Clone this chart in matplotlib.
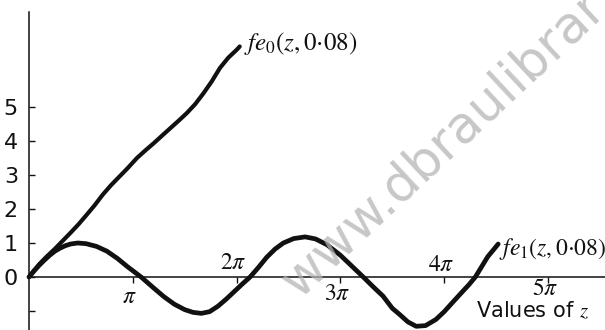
import numpy as np
import matplotlib
matplotlib.use("Agg")
from matplotlib import pyplot as plt

plt.rcParams['mathtext.fontset'] = 'stix'

# Mathieu functions fe0(z, 0.08) and fe1(z, 0.08); z given in multiples of pi
fe0_z = [0.00, 0.05, 0.10, 0.17, 0.25, 0.32, 0.40, 0.48, 0.55, 0.63, 0.71, 0.79, 0.87, 0.95,
         1.04, 1.12, 1.20, 1.29, 1.37, 1.45, 1.52, 1.60, 1.68, 1.76, 1.84, 1.92, 2.00, 2.03]
fe0_v = [0.00, 0.20, 0.38, 0.60, 0.83, 1.05, 1.30, 1.56, 1.81, 2.10, 2.42, 2.70, 2.95, 3.20,
         3.50, 3.72, 3.93, 4.18, 4.40, 4.62, 4.82, 5.08, 5.40, 5.75, 6.15, 6.45, 6.68, 6.78]

fe1_z = [0.00, 0.05, 0.10, 0.15, 0.20, 0.25, 0.30, 0.35, 0.40, 0.47, 0.55, 0.65, 0.75, 0.85,
         0.95, 1.08, 1.20, 1.30, 1.40, 1.50, 1.58, 1.66, 1.74, 1.82, 1.90, 1.97, 2.05, 2.13,
         2.21, 2.29, 2.37, 2.45, 2.55, 2.66, 2.76, 2.87, 2.95, 3.00, 3.10, 3.22, 3.32, 3.41,
         3.50, 3.57, 3.65, 3.73, 3.82, 3.92, 4.00, 4.08, 4.17, 4.24, 4.30, 4.36, 4.42, 4.48, 4.52]
fe1_v = [0.00, 0.18, 0.35, 0.50, 0.64, 0.76, 0.85, 0.92, 0.97, 1.00, 0.98, 0.90, 0.76, 0.55,
         0.30, 0.00, -0.32, -0.58, -0.80, -0.96, -1.04, -1.07, -1.02, -0.86, -0.65, -0.45, -0.22, 0.00,
         0.28, 0.58, 0.82, 1.00, 1.13, 1.18, 1.12, 0.95, 0.76, 0.64, 0.35, 0.00, -0.30, -0.56,
         -0.92, -1.10, -1.32, -1.45, -1.43, -1.25, -1.02, -0.75, -0.45, -0.22, 0.00, 0.30, 0.60, 0.82, 0.97]

y_ticks = [-1, 0, 1, 2, 3, 4, 5]
y_tick_labels = ['', '0', '1', '2', '3', '4', '5']
x_ticks = [1, 2, 3, 4, 5]
x_tick_labels = [r'$\pi$', r'$2\pi$', r'$3\pi$', r'$4\pi$', r'$5\pi$']

ink = '#111111'

fig = plt.figure(figsize=(6.05, 3.3), dpi=100)
ax = fig.add_axes([0, 0, 1, 1])

# origin at (29, 277) px, 103.8 px per pi, 34 px per unit
ax.set_xlim(-29 / 103.8, 576 / 103.8)
ax.set_ylim(-53 / 34, 277 / 34)

ax.spines['top'].set_visible(False)
ax.spines['right'].set_visible(False)
ax.spines['left'].set_position(('data', 0))
ax.spines['bottom'].set_position(('data', 0))
ax.spines['left'].set_bounds(-53 / 34, 7.8)
ax.spines['bottom'].set_bounds(0, 576 / 103.8)
for s in ['left', 'bottom']:
    ax.spines[s].set_linewidth(1.1)
    ax.spines[s].set_color(ink)

ax.set_yticks(y_ticks, y_tick_labels)
ax.tick_params(axis='y', direction='in', length=4, width=1, pad=8, colors=ink,
               labelsize=16)

ax.set_xticks(x_ticks, [''] * len(x_ticks))
ax.tick_params(axis='x', direction='out', length=4, width=1, colors=ink)

# pi labels alternate below / above the axis
offsets = [-19, 15, -16, 13, -11]
for xt, lab, dy in zip(x_ticks, x_tick_labels, offsets):
    ax.annotate(lab, (xt, 0), xytext=(-3, dy), textcoords='offset pixels',
                ha='center', va='center', fontsize=17, color=ink)

# watermark
fig.text(0.495, 0.095, 'www.dbraulibrary', rotation=43, rotation_mode='anchor',
         ha='left', va='baseline', fontsize=37, color='#b4b4b4', alpha=0.75,
         family='DejaVu Sans', zorder=0)

ax.plot(fe0_z, fe0_v, color=ink, lw=3.0, solid_capstyle='round', zorder=3)
ax.plot(fe1_z, fe1_v, color=ink, lw=3.4, solid_capstyle='round', zorder=3)

ax.annotate(r'$fe_0(z,0{\cdot}08)$', (fe0_z[-1], fe0_v[-1]), xytext=(4, 3),
            textcoords='offset pixels', ha='left', va='center', fontsize=18, color=ink)
ax.annotate(r'$fe_1(z,0{\cdot}08)$', (fe1_z[-1], fe1_v[-1]), xytext=(1, -5),
            textcoords='offset pixels', ha='left', va='center', fontsize=17, color=ink)

ax.annotate(r'Values of $z$', (4.85, 0), xytext=(0, -34), textcoords='offset pixels',
            ha='center', va='center', fontsize=15, color=ink)

fig.savefig('out.png', dpi=100)
